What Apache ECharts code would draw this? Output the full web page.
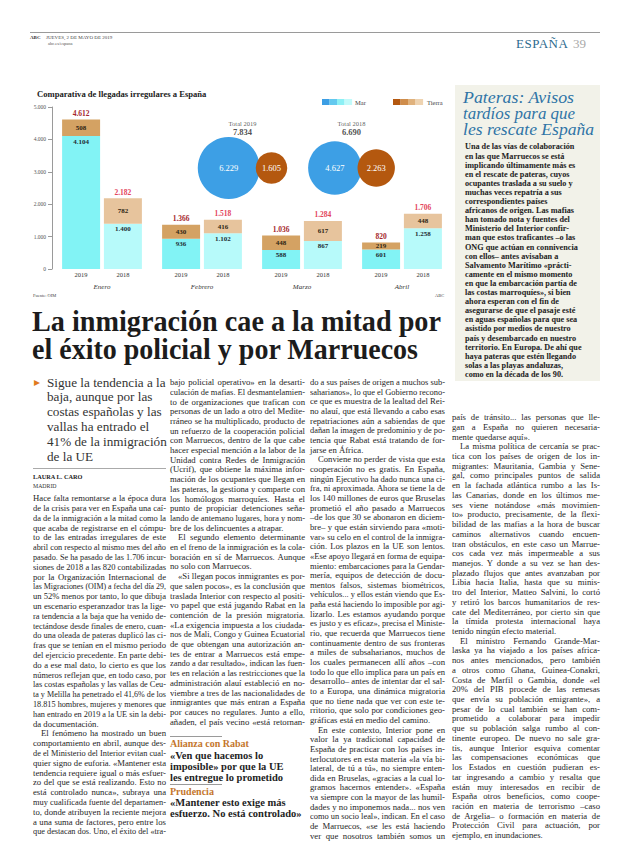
<!DOCTYPE html>
<html><head><meta charset="utf-8">
<script src="https://cdn.jsdelivr.net/npm/echarts/dist/echarts.min.js"></script>
<style>
html,body{margin:0;padding:0;background:#fff;}
body{width:620px;height:846px;position:relative;overflow:hidden;font-family:"Liberation Serif","DejaVu Serif",serif;color:#222;}
#chart{position:absolute;left:0;top:0;width:620px;height:846px;z-index:1;}
.abs{position:absolute;z-index:2;white-space:nowrap;}
.ln{position:absolute;white-space:nowrap;z-index:2;}
.ln span{display:inline-block;transform-origin:0 50%;}
</style>
</head><body>
<div id="chart"></div>

<!-- page header -->
<div class="abs" style="left:30px;top:32px;width:570px;height:0;border-top:1px solid #9a9a9a;"></div>
<div class="abs" style="left:30px;top:35px;font-size:5px;font-weight:bold;color:#333;">ABC</div>
<div class="abs" style="left:46px;top:35px;font-size:5px;color:#444;">JUEVES, 2 DE MAYO DE 2019</div>
<div class="abs" style="left:48px;top:41px;font-size:4.5px;color:#555;">abc.es/espana</div>
<div class="abs" style="left:516px;top:36px;font-size:13px;color:#2c6a8e;letter-spacing:0.5px;">ESPAÑA</div>
<div class="abs" style="left:573px;top:36px;font-size:13px;color:#a9a9a9;">39</div>

<!-- sidebar box -->
<div class="abs" style="left:455px;top:85px;width:145px;height:296px;background:#f2f2e9;z-index:0;"></div>

<div id="text"></div>

<script>
// ---------------- chart data ----------------
const months = ['Enero', 'Febrero', 'Marzo', 'Abril'];
const mar2019 = [4104, 936, 588, 601];
const tierra2019 = [508, 430, 448, 219];
const mar2018 = [1400, 1102, 867, 1258];
const tierra2018 = [782, 416, 617, 448];
const total2019 = [4612, 1366, 1036, 820];
const total2018 = [2182, 1518, 1284, 1706];
const yTickMin = 0, yTickMax = 5000, yTickStep = 1000;
const bubbleYears = ['2019', '2018'];
const bubbleMar = [6229, 4627];
const bubbleTierra = [1605, 2263];
const bubbleTotals = [7834, 6690];

const fmt = v => String(v).replace(/\B(?=(\d{3})+(?!\d))/g, '.');
const SERIF = '"Liberation Serif","DejaVu Serif",serif';

// bubble radius scale (layout): largest bubble radius 31px
const R0 = 31, V0 = Math.max(...bubbleMar);
const rad = v => R0 * Math.sqrt(v / V0);
const OVERLAP = 4;

function stackSeries(year, mar, tierra, totals, colMar, colTierra, colTotal) {
  const zeros = months.map(() => 0);
  const common = { type: 'bar', stack: 's' + year, barWidth: 38, barGap: '10%', xAxisIndex: 0, yAxisIndex: 0 };
  return [
    Object.assign({}, common, {
      name: 'year' + year, data: zeros, silent: true,
      itemStyle: { color: 'rgba(0,0,0,0)' },
      label: { show: true, position: 'bottom', distance: 2, formatter: year, fontSize: 6.5, color: '#333', fontFamily: SERIF }
    }),
    Object.assign({}, common, {
      name: 'Mar ' + year, data: mar,
      itemStyle: { color: colMar },
      label: { show: true, position: 'insideTop', distance: 2, formatter: p => fmt(p.value), fontSize: 7, fontWeight: 'bold', color: '#1f2d33', fontFamily: SERIF }
    }),
    Object.assign({}, common, {
      name: 'Tierra ' + year, data: tierra,
      itemStyle: { color: colTierra },
      label: { show: true, position: 'inside', formatter: p => fmt(p.value), fontSize: 7, fontWeight: 'bold', color: '#2e2414', fontFamily: SERIF }
    }),
    Object.assign({}, common, {
      name: 'Total ' + year, data: zeros, silent: true,
      itemStyle: { color: 'rgba(0,0,0,0)' },
      label: { show: true, position: 'top', distance: 2, formatter: p => fmt(totals[p.dataIndex]), fontSize: 7.5, fontWeight: 'bold', color: colTotal, fontFamily: SERIF }
    })
  ];
}

function bubbleData(vals, isMar) {
  return vals.map((v, i) => {
    const rb = rad(bubbleMar[i]), rt = rad(bubbleTierra[i]);
    const W = 2 * rb + 2 * rt - OVERLAP;
    const off = isMar ? (-W / 2 + rb) : (W / 2 - rt);
    return { value: [bubbleYears[i], 'c', v], symbolSize: 2 * rad(v), symbolOffset: [off, 0] };
  });
}

const chart = echarts.init(document.getElementById('chart'), null, { renderer: 'svg' });

const legendSteps = (x, cols) => cols.map((c, i) => ({
  type: 'rect', shape: { x: x + i * 7.5, y: 99, width: 7.6, height: 6 }, style: { fill: c }
}));

chart.setOption({
  animation: false,
  backgroundColor: 'transparent',
  title: {
    text: 'Comparativa de llegadas irregulares a España', left: 32, top: 84,
    textStyle: { fontSize: 8.6, fontWeight: 'bold', color: '#222', fontFamily: SERIF }
  },
  grid: [
    { left: 52, width: 400, top: 107, height: 162 },
    { left: 188, width: 218, top: 138, height: 60 }
  ],
  xAxis: [
    { type: 'category', gridIndex: 0, data: months,
      axisLine: { show: false }, axisTick: { show: false },
      axisLabel: { margin: 14, fontSize: 7, fontStyle: 'italic', color: '#333', fontFamily: SERIF } },
    { type: 'category', gridIndex: 1, data: bubbleYears, show: false }
  ],
  yAxis: [
    { type: 'value', gridIndex: 0, min: yTickMin, max: yTickMax, interval: yTickStep,
      axisLine: { show: true, lineStyle: { color: '#9a9a9a', width: 1 } },
      axisTick: { show: true, length: 4, lineStyle: { color: '#9a9a9a' } },
      splitLine: { show: false },
      axisLabel: { margin: 6, fontSize: 5.5, color: '#555', fontFamily: SERIF, formatter: v => fmt(v) } },
    { type: 'category', gridIndex: 1, data: ['c'], show: false }
  ],
  series: [
    ...stackSeries('2019', mar2019, tierra2019, total2019, '#82f3f5', '#d4a263', '#a5262c'),
    ...stackSeries('2018', mar2018, tierra2018, total2018, '#b7fafa', '#e7c49d', '#e3455c'),
    { type: 'scatter', name: 'Mar total', xAxisIndex: 1, yAxisIndex: 1, data: bubbleData(bubbleMar, true),
      itemStyle: { color: '#3d9fe5', opacity: 1 },
      label: { show: true, position: 'inside', formatter: p => fmt(p.value[2]), fontSize: 8.5, color: '#fff', fontFamily: SERIF }, z: 3 },
    { type: 'scatter', name: 'Tierra total', xAxisIndex: 1, yAxisIndex: 1, data: bubbleData(bubbleTierra, false),
      itemStyle: { color: '#b4580f', opacity: 1 },
      label: { show: true, position: 'inside', formatter: p => fmt(p.value[2]), fontSize: 8.5, color: '#fff', fontFamily: SERIF }, z: 4 },
    { type: 'scatter', name: 'Totales', xAxisIndex: 1, yAxisIndex: 1,
      data: bubbleTotals.map((v, i) => ({ value: [bubbleYears[i], 'c', v], symbolOffset: [0, -40] })),
      symbolSize: 1, itemStyle: { color: 'rgba(0,0,0,0)' }, silent: true,
      label: { show: true, position: 'inside',
        formatter: p => '{a|Total ' + p.value[0] + '}\n{b|' + fmt(p.value[2]) + '}',
        rich: { a: { fontSize: 6.5, color: '#333', lineHeight: 8, fontFamily: SERIF },
                b: { fontSize: 8.5, fontWeight: 'bold', color: '#222', lineHeight: 10, fontFamily: SERIF } } } }
  ],
  graphic: [
    ...legendSteps(322, ['#3c9ee4', '#63c9ef', '#8df0f5', '#c2fafa']),
    { type: 'text', left: 355, top: 98.5, style: { text: 'Mar', fontSize: 6.5, fill: '#444', fontFamily: SERIF } },
    ...legendSteps(393, ['#b4580f', '#cf8d4b', '#e0b27d', '#eed3b1']),
    { type: 'text', left: 427, top: 98.5, style: { text: 'Tierra', fontSize: 6.5, fill: '#444', fontFamily: SERIF } },
    { type: 'text', left: 33, top: 293, style: { text: 'Fuente: OIM', fontSize: 4.5, fill: '#444', fontFamily: SERIF } },
    { type: 'text', left: 435, top: 293, style: { text: 'ABC', fontSize: 4.5, fill: '#444', fontFamily: SERIF } }
  ]
});

// ---------------- page text ----------------
const root = document.getElementById('text');
function addLines(lines, x, y, w, lh, fs, opt) {
  opt = opt || {};
  lines.forEach((raw, i) => {
    let t = raw, indent = 0, justify = !!opt.justify;
    if (t.startsWith('>')) { t = t.slice(1); indent = opt.indent || 8; }
    if (t.endsWith('¶')) { t = t.slice(0, -1); justify = false; }
    const d = document.createElement('div');
    d.className = 'ln';
    d.style.left = (x + indent) + 'px';
    d.style.top = (y + i * lh - lh / 2) + 'px';
    d.style.height = lh + 'px';
    d.style.lineHeight = lh + 'px';
    d.style.fontSize = fs + 'px';
    d.style.color = opt.color || '#262626';
    if (opt.weight) d.style.fontWeight = opt.weight;
    if (opt.style) d.style.fontStyle = opt.style;
    if (opt.family) d.style.fontFamily = opt.family;
    const s = document.createElement('span');
    s.textContent = t;
    d.appendChild(s);
    root.appendChild(d);
    const avail = w - indent;
    const nat = s.getBoundingClientRect().width;
    const spaces = (t.match(/ /g) || []).length;
    if (opt.fit) {
      s.style.transform = 'scaleX(' + (avail / nat) + ')';
    } else if (nat > avail + 0.5) {
      s.style.transform = 'scaleX(' + (avail / nat) + ')';
    } else if (justify && spaces > 0) {
      s.style.wordSpacing = ((avail - nat) / spaces) + 'px';
    }
  });
}

// headline (each line fitted to the measured width in the reference)
addLines(['La inmigración cae a la mitad por'], 32, 322, 409, 28, 28.5, { weight: 'bold', color: '#1c1c1c', fit: true });
addLines(['el éxito policial y por Marruecos'], 32, 350, 386, 28, 28.5, { weight: 'bold', color: '#1c1c1c', fit: true });

// deck
const arrow = document.createElement('div');
arrow.className = 'abs'; arrow.textContent = '▸';
arrow.style.cssText += 'left:34px;top:375px;font-size:12px;color:#e07a1f;';
root.appendChild(arrow);
addLines(['Sigue la tendencia a la', 'baja, aunque por las', 'costas españolas y las', 'vallas ha entrado el',
  '41% de la inmigración', 'de la UE'], 47, 383, 125, 14.8, 13.2, { color: '#333' });

// byline
const rule1 = document.createElement('div');
rule1.className = 'abs'; rule1.style.cssText += 'left:33px;top:468px;width:133px;border-top:1px solid #aaa;';
root.appendChild(rule1);
addLines(['LAURA L. CARO'], 33, 477, 80, 8, 6.3, { weight: 'bold', color: '#222' });
addLines(['MADRID'], 33, 485.5, 80, 8, 5.8, { color: '#333' });

const col1 = `Hace falta remontarse a la época dura
de la crisis para ver en España una caí-
da de la inmigración a la mitad como la
que acaba de registrarse en el cómpu-
to de las entradas irregulares de este
abril con respecto al mismo mes del año
pasado. Se ha pasado de las 1.706 incur-
siones de 2018 a las 820 contabilizadas
por la Organización Internacional de
las Migraciones (OIM) a fecha del día 29,
un 52% menos por tanto, lo que dibuja
un escenario esperanzador tras la lige-
ra tendencia a la baja que ha venido de-
tectándose desde finales de enero, cuan-
do una oleada de pateras duplicó las ci-
fras que se tenían en el mismo periodo
del ejercicio precedente. En parte debi-
do a ese mal dato, lo cierto es que los
números reflejan que, en todo caso, por
las costas españolas y las vallas de Ceu-
ta y Melilla ha penetrado el 41,6% de los
18.815 hombres, mujeres y menores que
han entrado en 2019 a la UE sin la debi-
da documentación.¶
>El fenómeno ha mostrado un buen
comportamiento en abril, aunque des-
de el Ministerio del Interior evitan cual-
quier signo de euforia. «Mantener esta
tendencia requiere igual o más esfuer-
zo del que se está realizando. Esto no
está controlado nunca», subraya una
muy cualificada fuente del departamen-
to, donde atribuyen la reciente mejora
a una suma de factores, pero entre los
que destacan dos. Uno, el éxito del «tra-`.split('\n');

const col2 = `bajo policial operativo» en la desarti-
culación de mafias. El desmantelamien-
to de organizaciones que trafican con
personas de un lado a otro del Medite-
rráneo se ha multiplicado, producto de
un refuerzo de la cooperación policial
con Marruecos, dentro de la que cabe
hacer especial mención a la labor de la
Unidad contra Redes de Inmigración
(Ucrif), que obtiene la máxima infor-
mación de los ocupantes que llegan en
las pateras, la gestiona y comparte con
los homólogos marroquíes. Hasta el
punto de propiciar detenciones seña-
lando de antemano lugares, hora y nom-
bre de los delincuentes a atrapar.¶
>El segundo elemento determinante
en el freno de la inmigración es la cola-
boración en sí de Marruecos. Aunque
no solo con Marruecos.¶
>«Si llegan pocos inmigrantes es por-
que salen pocos», es la conclusión que
traslada Interior con respecto al positi-
vo papel que está jugando Rabat en la
contención de la presión migratoria.
«La exigencia impuesta a los ciudada-
nos de Mali, Congo y Guinea Ecuatorial
de que obtengan una autorización an-
tes de entrar a Marruecos está empe-
zando a dar resultado», indican las fuen-
tes en relación a las restricciones que la
administración alauí estableció en no-
viembre a tres de las nacionalidades de
inmigrantes que más entran a España
por cauces no regulares. Junto a ello,
añaden, el país vecino «está retornan-`.split('\n');

const col3 = `do a sus países de origen a muchos sub-
saharianos», lo que el Gobierno recono-
ce que es muestra de la lealtad del Rei-
no alauí, que está llevando a cabo esas
repatriaciones aún a sabiendas de que
dañan la imagen de predominio y de po-
tencia que Rabat está tratando de for-
jarse en África.¶
>Conviene no perder de vista que esta
cooperación no es gratis. En España,
ningún Ejecutivo ha dado nunca una ci-
fra, ni aproximada. Ahora se tiene la de
los 140 millones de euros que Bruselas
prometió el año pasado a Marruecos
–de los que 30 se abonaron en diciem-
bre– y que están sirviendo para «moti-
var» su celo en el control de la inmigra-
ción. Los plazos en la UE son lentos.
«Ese apoyo llegará en forma de equipa-
miento: embarcaciones para la Gendar-
mería, equipos de detección de docu-
mentos falsos, sistemas biométricos,
vehículos... y ellos están viendo que Es-
paña está haciendo lo imposible por agi-
lizarlo. Les estamos ayudando porque
es justo y es eficaz», precisa el Ministe-
rio, que recuerda que Marruecos tiene
continuamente dentro de sus fronteras
a miles de subsaharianos, muchos de
los cuales permanecen allí años –con
todo lo que ello implica para un país en
desarrollo– antes de intentar dar el sal-
to a Europa, una dinámica migratoria
que no tiene nada que ver con este te-
rritorio, que solo por condiciones geo-
gráficas está en medio del camino.¶
>En este contexto, Interior pone en
valor la ya tradicional capacidad de
España de practicar con los países in-
terlocutores en esta materia «la vía bi-
lateral, de tú a tú», no siempre enten-
dida en Bruselas, «gracias a la cual lo-
gramos hacernos entender». «España
va siempre con la mayor de las humil-
dades y no imponemos nada... nos ven
como un socio leal», indican. En el caso
de Marruecos, «se les está haciendo
ver que nosotros también somos un`.split('\n');

const col4 = `país de tránsito... las personas que lle-
gan a España no quieren necesaria-
mente quedarse aquí».¶
>La misma política de cercanía se prac-
tica con los países de origen de los in-
migrantes: Mauritania, Gambia y Sene-
gal, como principales puntos de salida
en la fachada atlántica rumbo a las Is-
las Canarias, donde en los últimos me-
ses viene notándose «más movimien-
to» producto, precisamente, de la flexi-
bilidad de las mafias a la hora de buscar
caminos alternativos cuando encuen-
tran obstáculos, en este caso un Marrue-
cos cada vez más impermeable a sus
manejos. Y donde a su vez se han des-
plazado flujos que antes avanzaban por
Libia hacia Italia, hasta que su minis-
tro del Interior, Matteo Salvini, lo cortó
y retiró los barcos humanitarios de res-
cate del Mediterráneo, por cierto sin que
la tímida protesta internacional haya
tenido ningún efecto material.¶
>El ministro Fernando Grande-Mar-
laska ya ha viajado a los países africa-
nos antes mencionados, pero también
a otros como Ghana, Guinea-Conakri,
Costa de Marfil o Gambia, donde «el
20% del PIB procede de las remesas
que envía su población emigrante», a
pesar de lo cual también se han com-
prometido a colaborar para impedir
que su población salga rumbo al con-
tinente europeo. De nuevo no sale gra-
tis, aunque Interior esquiva comentar
las compensaciones económicas que
los Estados en cuestión pudieran es-
tar ingresando a cambio y resalta que
están muy interesados en recibir de
España otros beneficios, como coope-
ración en materia de terrorismo –caso
de Argelia– o formación en materia de
Protección Civil para actuación, por
ejemplo, en inundaciones.¶`.split('\n');

const FS = 8.7;
addLines(col1, 33, 499, 133, 9.8, FS, { justify: true });
addLines(col2, 170, 383, 135, 9.7, FS, { justify: true });
addLines(col3, 310, 383, 135, 9.65, FS, { justify: true });
addLines(col4, 452, 418, 148, 9.72, FS, { justify: true });

// col2 highlights
function rule(x, y, w) {
  const r = document.createElement('div');
  r.className = 'abs'; r.style.cssText += 'left:' + x + 'px;top:' + y + 'px;width:' + w + 'px;border-top:1px solid #9a9a9a;';
  root.appendChild(r);
}
rule(170, 736, 52);
addLines(['Alianza con Rabat'], 170, 744, 130, 10, 10, { weight: 'bold', color: '#c4762c' });
addLines(['«Ven que hacemos lo', 'imposible» por que la UE', 'les entregue lo prometido'], 170, 755, 135, 11, 10.5,
  { weight: 'bold', color: '#1e1e1e' });
rule(170, 784, 52);
addLines(['Prudencia'], 170, 792, 130, 10, 10, { weight: 'bold', color: '#c4762c' });
addLines(['«Mantener esto exige más', 'esfuerzo. No está controlado»'], 170, 802.5, 135, 11, 10.5,
  { weight: 'bold', color: '#1e1e1e' });

// sidebar
addLines(['Pateras: Avisos'], 463, 98, 111, 16.2, 16, { style: 'italic', color: '#2f74a6', fit: true });
addLines(['tardíos para que'], 463, 114.2, 112, 16.2, 16, { style: 'italic', color: '#2f74a6', fit: true });
addLines(['les rescate España'], 463, 130.4, 131, 16.2, 16, { style: 'italic', color: '#2f74a6', fit: true });
addLines(`Una de las vías de colaboración
en las que Marruecos se está
implicando últimamente más es
en el rescate de pateras, cuyos
ocupantes traslada a su suelo y
muchas veces repatría a sus
correspondientes países
africanos de origen. Las mafias
han tomado nota y fuentes del
Ministerio del Interior confir-
man que estos traficantes –o las
ONG que actúan en connivencia
con ellos– antes avisaban a
Salvamento Marítimo «prácti-
camente en el mismo momento
en que la embarcación partía de
las costas marroquíes», si bien
ahora esperan con el fin de
asegurarse de que el pasaje esté
en aguas españolas para que sea
asistido por medios de nuestro
país y desembarcado en nuestro
territorio. En Europa. De ahí que
haya pateras que estén llegando
solas a las playas andaluzas,
como en la década de los 90.`.split('\n'), 465, 147, 132, 9.1, 8.2, { weight: 'bold', color: '#222' });
</script>
</body></html>
